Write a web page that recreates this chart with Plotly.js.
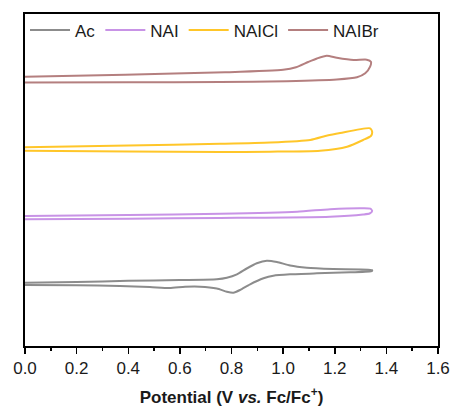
<!DOCTYPE html>
<html>
<head>
<meta charset="utf-8">
<script src="https://cdn.plot.ly/plotly-3.0.1.min.js"></script>
<style>html,body{margin:0;padding:0;background:#fff;}#chart{width:453px;height:408px;}</style>
</head>
<body>
<div id="chart"></div>
<script>
// Potential (V vs. Fc/Fc+) and current (arbitrary, offset) for each CV loop
const acV = [0, 0.2, 0.4, 0.6, 0.743, 0.782, 0.821, 0.859, 0.898, 0.937, 0.976, 1.027, 1.092, 1.194, 1.344,
             1.344, 1.260, 1.131, 1.027, 0.962, 0.924, 0.872, 0.833, 0.807, 0.782, 0.743, 0.678, 0.620, 0.560, 0.484, 0.368, 0.2, 0];
const acI = [63.3, 64, 65.2, 66, 66.8, 68.3, 71.7, 77.5, 82.7, 85.3, 84, 80.5, 78.3, 77, 76,
             75, 73.7, 72.7, 71.7, 70.3, 67.7, 61.7, 56, 53.3, 54.3, 57.5, 59.3, 59.2, 58, 59, 60, 60.8, 61];

const naiV = [0, 0.4, 0.756, 1.054, 1.182, 1.310, 1.338, 1.345, 1.335, 1.310, 1.182, 0.756, 0.4, 0];
const naiI = [130, 131, 132.2, 134.3, 136.8, 137.7, 137.3, 135, 132.5, 131.5, 129.3, 128, 127.3, 126.7];

const naiclV = [0, 0.4, 0.756, 0.950, 1.105, 1.171, 1.221, 1.337, 1.345, 1.340, 1.310, 1.248, 1.143, 0.950, 0.756, 0.4, 0];
const naiclI = [198.7, 200.5, 202.2, 203.5, 206, 210.5, 213, 217.7, 214, 210, 206, 199.3, 195.3, 194.3, 194, 194.5, 195.3];

const naibrV = [0, 0.388, 0.775, 1.0, 1.05, 1.097, 1.131, 1.169, 1.208, 1.273, 1.324, 1.340, 1.337, 1.318, 1.286, 1.208, 1.014, 0.756, 0.4, 0];
const naibrI = [269.3, 271.3, 273.7, 276.2, 278.8, 284, 287.5, 290.3, 288.3, 286, 286.3, 284.3, 279.3, 272.7, 268.7, 266.5, 264.8, 264, 263.8, 263.5];

const names = ["Ac", "NAI", "NAICl", "NAIBr"];
const colors = ["#8c8c8c", "#c893e6", "#ffc629", "#b47f7f"];
const xs = [acV, naiV, naiclV, naibrV];
const ys = [acI, naiI, naiclI, naibrI];

const traces = names.map((n, i) => ({
  x: xs[i], y: ys[i], name: n, type: "scatter", mode: "lines",
  line: {color: colors[i], width: 2, shape: "spline", smoothing: 0.6}
}));

const font = "Liberation Sans, Arial, sans-serif";
const layout = {
  width: 453, height: 408,
  margin: {l: 25, r: 15, t: 14, b: 62},
  paper_bgcolor: "#fff", plot_bgcolor: "#fff",
  font: {family: font, color: "#1a1a1a", size: 17},
  showlegend: true,
  legend: {orientation: "h", x: 0.0, y: 1.005, xanchor: "left", yanchor: "top",
           font: {size: 17, family: font, color: "#1a1a1a"}, bgcolor: "rgba(0,0,0,0)",
           itemwidth: 40, tracegroupgap: 0},
  xaxis: {
    range: [0, 1.6], dtick: 0.2, tick0: 0, tickformat: ".1f",
    ticks: "outside", ticklen: 6, tickwidth: 1.5, tickcolor: "#000",
    minor: {dtick: 0.1, ticks: "outside", ticklen: 3, tickwidth: 1.5, tickcolor: "#000"},
    showline: true, linecolor: "#000", linewidth: 2, mirror: true,
    showgrid: false, zeroline: false,
    tickfont: {size: 17, family: font, color: "#1a1a1a"},
    title: {text: "<b>Potential (V <i>vs.</i> Fc/Fc<sup>+</sup>)</b>", font: {size: 17, family: font, color: "#1a1a1a"}, standoff: 14}
  },
  yaxis: {
    range: [0, 332], showticklabels: false, ticks: "",
    showline: true, linecolor: "#000", linewidth: 2, mirror: true,
    showgrid: false, zeroline: false
  }
};

Plotly.newPlot("chart", traces, layout, {displayModeBar: false, staticPlot: true});
</script>
</body>
</html>
